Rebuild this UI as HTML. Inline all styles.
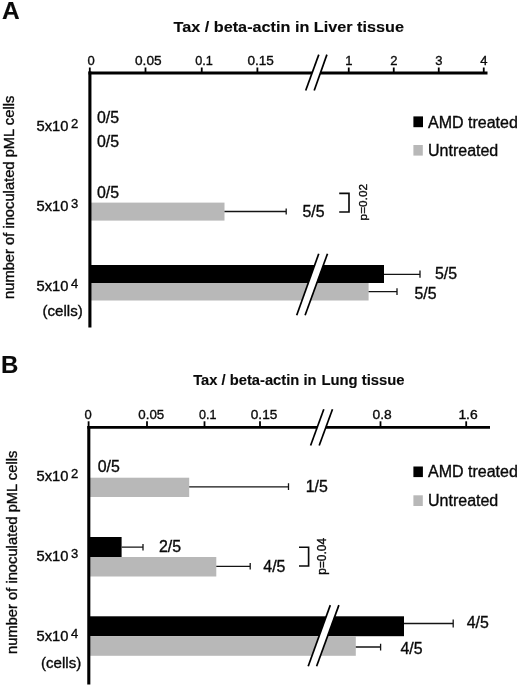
<!DOCTYPE html>
<html>
<head>
<meta charset="utf-8">
<title>Tax / beta-actin</title>
<style>
html,body{margin:0;padding:0;background:#fff;}
body{width:520px;height:687px;overflow:hidden;}
svg{display:block;will-change:transform;filter:grayscale(1);}
text{font-family:"Liberation Sans",sans-serif;fill:#0a0a0a;stroke:#0a0a0a;stroke-width:0.35;}
.b{font-weight:bold;stroke-width:0.12;}
.ax{stroke:#000;fill:none;}
.eb{stroke:#141414;stroke-width:1.3;fill:none;}
.bk{stroke:#000;stroke-width:1.7;fill:none;}
.br{stroke:#0a0a0a;stroke-width:1.65;fill:none;}
.g{fill:#b8b8b8;}
.k{fill:#000;}
</style>
</head>
<body>
<svg width="520" height="687" viewBox="0 0 520 687">
<rect width="520" height="687" fill="#fff"/>

<!-- ================= PANEL A ================= -->
<text class="b" x="2" y="19" font-size="24.5">A</text>
<text class="b" x="173.5" y="32" font-size="15.5" textLength="230.5" lengthAdjust="spacingAndGlyphs">Tax / beta-actin in Liver tissue</text>

<!-- tick labels -->
<g font-size="13">
<text x="87.5" y="64.6">0</text>
<text x="135" y="64.6" textLength="26.6" lengthAdjust="spacingAndGlyphs">0.05</text>
<text x="195.3" y="64.6" textLength="17.6" lengthAdjust="spacingAndGlyphs">0.1</text>
<text x="247.5" y="64.6" textLength="26.4" lengthAdjust="spacingAndGlyphs">0.15</text>
<text x="345.3" y="64.6">1</text>
<text x="390.3" y="64.6">2</text>
<text x="435.3" y="64.6">3</text>
<text x="480.3" y="64.6">4</text>
</g>

<!-- bars -->
<rect class="g" x="90" y="202.6" width="134.5" height="18"/>
<rect class="k" x="90" y="265" width="294" height="18"/>
<rect class="g" x="90" y="283" width="278.6" height="17.5"/>

<!-- bar break (white gap + lines) -->
<polygon points="318.75,253.5 327.5,253.5 304.4,315.4 296.7,315.4" fill="#fff"/>
<line class="bk" x1="318.75" y1="253.75" x2="296.7" y2="315.3"/>
<line class="bk" x1="327.5" y1="253.75" x2="305.1" y2="315.3"/>

<!-- axes -->
<line class="ax" x1="89.9" y1="71.6" x2="89.9" y2="327.5" stroke-width="3.1"/>
<line class="ax" x1="88.5" y1="73" x2="487.5" y2="73" stroke-width="2.9"/>
<g class="ax" stroke-width="1.8">
<line x1="89.8" y1="67.5" x2="89.8" y2="72"/>
<line x1="145.5" y1="67.5" x2="145.5" y2="72"/>
<line x1="201.75" y1="67.5" x2="201.75" y2="72"/>
<line x1="257.4" y1="67.5" x2="257.4" y2="72"/>
<line x1="348.75" y1="67.5" x2="348.75" y2="72"/>
<line x1="393.75" y1="67.5" x2="393.75" y2="72"/>
<line x1="438.75" y1="67.5" x2="438.75" y2="72"/>
<line x1="483.75" y1="67.5" x2="483.75" y2="72"/>
</g>
<!-- axis break -->
<polygon points="318.8,54.6 326.9,54.6 314.2,90.5 305.7,90.5" fill="#fff"/>
<line class="bk" x1="318.8" y1="54.6" x2="305.7" y2="90.5"/>
<line class="bk" x1="326.9" y1="54.6" x2="314.2" y2="90.5"/>

<!-- error bars -->
<path class="eb" d="M224.5 211.5H286.2M286.2 208.6V214.6"/>
<path class="eb" d="M384 274.3H420M420 270.6V277.8"/>
<path class="eb" d="M368.6 291.6H397M397 288.2V295"/>

<!-- counts -->
<g font-size="15.9">
<text x="97" y="123">0/5</text>
<text x="97" y="146.7">0/5</text>
<text x="97" y="198">0/5</text>
<text x="302.5" y="216.5">5/5</text>
<text x="435" y="279.2">5/5</text>
<text x="414.4" y="298.6">5/5</text>
</g>

<!-- bracket + p -->
<path class="br" d="M339.2 193.4H349V212H339.2"/>
<text font-size="11.8" transform="translate(366.7,220.4) rotate(-90)">p=0.02</text>

<!-- y categories -->
<g font-size="14">
<text x="36.5" y="130.5" textLength="31.9" lengthAdjust="spacingAndGlyphs">5x10</text>
<text x="36.5" y="210.5" textLength="31.9" lengthAdjust="spacingAndGlyphs">5x10</text>
<text x="36.5" y="290.5" textLength="31.9" lengthAdjust="spacingAndGlyphs">5x10</text>
<text x="42.5" y="316.3" font-size="14.5" textLength="40.2" lengthAdjust="spacingAndGlyphs">(cells)</text>
</g>
<g font-size="13">
<text x="71" y="127.5">2</text>
<text x="71" y="207.5">3</text>
<text x="71" y="288">4</text>
</g>
<text font-size="14.5" textLength="203.3" lengthAdjust="spacingAndGlyphs" transform="translate(14,299) rotate(-90)">number of inoculated pML cells</text>

<!-- legend -->
<rect class="k" x="413.4" y="116.4" width="9.6" height="10.8"/>
<text x="428" y="127.5" font-size="16">AMD treated</text>
<rect class="g" x="413.4" y="145" width="9.4" height="10.6"/>
<text x="428" y="156.3" font-size="16">Untreated</text>

<!-- ================= PANEL B ================= -->
<text class="b" x="1" y="373.3" font-size="24">B</text>
<text class="b" x="193.2" y="385" font-size="14" textLength="123.3" lengthAdjust="spacingAndGlyphs">Tax / beta-actin in</text>
<text class="b" x="321.4" y="385" font-size="14" textLength="83.2" lengthAdjust="spacingAndGlyphs">Lung tissue</text>

<g font-size="13">
<text x="84.4" y="418.6">0</text>
<text x="138.3" y="418.6" textLength="25.9" lengthAdjust="spacingAndGlyphs">0.05</text>
<text x="199" y="418.6" textLength="17.4" lengthAdjust="spacingAndGlyphs">0.1</text>
<text x="250.8" y="418.6" textLength="26.5" lengthAdjust="spacingAndGlyphs">0.15</text>
<text x="372.5" y="418.6" textLength="19.2" lengthAdjust="spacingAndGlyphs">0.8</text>
<text x="458.4" y="418.6" textLength="19.3" lengthAdjust="spacingAndGlyphs">1.6</text>
</g>

<!-- bars -->
<rect class="g" x="89" y="477.7" width="100.2" height="19.3"/>
<rect class="k" x="89" y="537" width="32.6" height="20"/>
<rect class="g" x="89" y="557" width="127.3" height="19.5"/>
<rect class="k" x="89" y="616.3" width="315" height="19.9"/>
<rect class="g" x="89" y="636.2" width="266.8" height="19.6"/>

<!-- bar break -->
<polygon points="330.3,605 338.9,605 316.6,666.4 308.2,666.4" fill="#fff"/>
<line class="bk" x1="330.3" y1="605.1" x2="308.2" y2="666.3"/>
<line class="bk" x1="338.9" y1="605.1" x2="316.6" y2="666.3"/>

<!-- axes -->
<line class="ax" x1="88.8" y1="426" x2="88.8" y2="684.5" stroke-width="3.1"/>
<line class="ax" x1="87.4" y1="427.4" x2="490" y2="427.4" stroke-width="2.9"/>
<g class="ax" stroke-width="1.8">
<line x1="88.6" y1="421.3" x2="88.6" y2="426.5"/>
<line x1="147" y1="421.3" x2="147" y2="426.5"/>
<line x1="204.5" y1="421.3" x2="204.5" y2="426.5"/>
<line x1="260" y1="421.3" x2="260" y2="426.5"/>
<line x1="380.5" y1="421.3" x2="380.5" y2="426.5"/>
<line x1="466.2" y1="421.3" x2="466.2" y2="426.5"/>
</g>
<polygon points="323.8,409.2 332.5,409.2 319.2,445.5 310.6,445.5" fill="#fff"/>
<line class="bk" x1="323.8" y1="409.2" x2="310.6" y2="445.5"/>
<line class="bk" x1="332.5" y1="409.2" x2="319.2" y2="445.5"/>

<!-- error bars -->
<path class="eb" d="M189.2 486.9H288.5M288.5 483.3V490"/>
<path class="eb" d="M121.6 547.2H143M143 544V550.4"/>
<path class="eb" d="M216.3 566.4H250.2M250.2 563V569.6"/>
<path class="eb" d="M404 623.5H453.2M453.2 619.6V627.5"/>
<path class="eb" d="M355.8 647H380.6M380.6 643.8V650.4"/>

<!-- counts -->
<g font-size="15.9">
<text x="97.7" y="471.8">0/5</text>
<text x="305.7" y="491.5">1/5</text>
<text x="158.9" y="551.7">2/5</text>
<text x="263.3" y="572.2">4/5</text>
<text x="466.7" y="627.7">4/5</text>
<text x="400.5" y="653.5">4/5</text>
</g>

<path class="br" d="M299 547.2H308.6V566H299"/>
<text font-size="11.9" transform="translate(325.7,574.7) rotate(-90)">p=0.04</text>

<g font-size="14">
<text x="36.5" y="480.5" textLength="31.9" lengthAdjust="spacingAndGlyphs">5x10</text>
<text x="36.5" y="560.5" textLength="31.9" lengthAdjust="spacingAndGlyphs">5x10</text>
<text x="36.5" y="640.5" textLength="31.9" lengthAdjust="spacingAndGlyphs">5x10</text>
<text x="41" y="668.3" font-size="14.5" textLength="40.2" lengthAdjust="spacingAndGlyphs">(cells)</text>
</g>
<g font-size="13">
<text x="71" y="477.5">2</text>
<text x="71" y="557.5">3</text>
<text x="71" y="637.7">4</text>
</g>
<text font-size="14.5" textLength="203.3" lengthAdjust="spacingAndGlyphs" transform="translate(16.5,654) rotate(-90)">number of inoculated pML cells</text>

<rect class="k" x="413.4" y="466.5" width="9.5" height="10.6"/>
<text x="428" y="477" font-size="16">AMD treated</text>
<rect class="g" x="413.4" y="495.3" width="9.4" height="10.7"/>
<text x="428" y="506" font-size="16">Untreated</text>
</svg>
</body>
</html>
